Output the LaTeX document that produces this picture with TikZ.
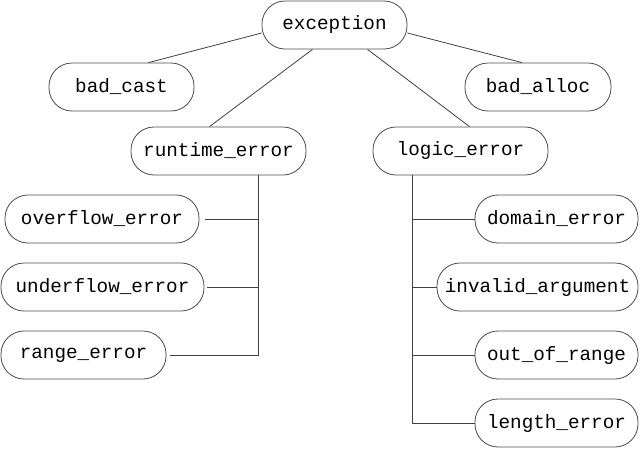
\documentclass[tikz,border=0pt]{standalone}
\usepackage{fontspec}
\setmonofont{Liberation Mono}
\usetikzlibrary{calc}

\newcommand{\clsfont}{\ttfamily\fontsize{19.3}{23}\selectfont}

\tikzset{
  cls/.style={draw=black!70, line width=0.8pt, rounded corners=23pt,
              minimum height=48pt, inner sep=0pt, font=\clsfont},
  link/.style={draw=black!75, line width=0.8pt}
}

\begin{document}
\begin{tikzpicture}[x=1pt, y=-1pt, line join=round]
    \useasboundingbox (0,0) rectangle (641,448);

    % Root and first level
    \node[cls, minimum width=145pt] (exc) at (334.5,25) {exception};
    \node[cls, minimum width=145pt] (bc)  at (121.5,87) {bad\_cast};
    \node[cls, minimum width=146pt] (ba)  at (538,87)   {bad\_alloc};
    \node[cls, minimum width=175pt] (rt)  at (218.5,151) {runtime\_error};
    \node[cls, minimum width=175pt] (le)  at (460.5,151) {logic\_error};

    % Runtime children (left column)
    \foreach \name/\cx/\cy/\bw/\lbl in {
        ov/102/219/194/overflow\_error,
        uf/102.5/287/203/underflow\_error,
        rg/83.5/355/165/range\_error}{
      \node[cls, minimum width=\bw pt] (\name) at (\cx,\cy) {\lbl};
    }

    % Logic children (right column)
    \foreach \name/\cx/\cy/\bw/\lbl in {
        dom/556.5/219/163/domain\_error,
        inv/537.5/287/201/invalid\_argument,
        oor/556.5/355/163/out\_of\_range,
        len/556.5/423/163/length\_error}{
      \node[cls, minimum width=\bw pt] (\name) at (\cx,\cy) {\lbl};
    }

    % Links from the root
    \draw[link] ([yshift=-8pt]exc.west) -- ([xshift=27pt]bc.north);
    \draw[link] ([yshift=-8pt]exc.east) -- ([xshift=-16pt]ba.north);
    \draw[link] ([xshift=-22pt]exc.south) -- ([xshift=-9pt]rt.north);
    \draw[link] ([xshift=33pt]exc.south) -- ([xshift=9pt]le.north);

    % Runtime bus
    \coordinate (rtbus) at ([xshift=40pt]rt.south);
    \draw[link] (rtbus) |- ([xshift=4pt]rg.east);
    \draw[link] ([xshift=6pt]ov.east) -- (ov.east -| rtbus);
    \draw[link] ([xshift=3pt]uf.east) -- (uf.east -| rtbus);

    % Logic bus
    \coordinate (lebus) at ([xshift=-48.5pt]le.south);
    \draw[link] (lebus) |- (len.west);
    \foreach \name in {dom,inv,oor}
      \draw[link] (\name.west) -- (\name.west -| lebus);
\end{tikzpicture}
\end{document}
